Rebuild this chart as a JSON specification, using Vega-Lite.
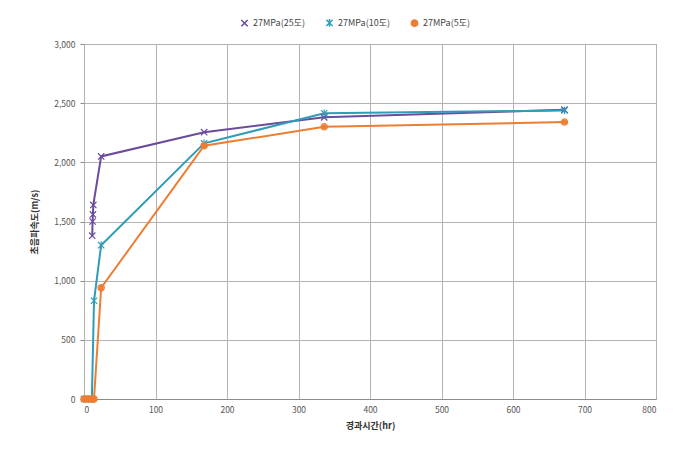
{
  "$schema": "https://vega.github.io/schema/vega-lite/v6.json",
  "width": 572,
  "height": 355,
  "autosize": "none",
  "padding": {"left": 84, "top": 44, "right": 38, "bottom": 56},
  "background": "white",
  "config": {
    "font": "Noto Sans CJK KR",
    "view": {"stroke": "#8c8c8c", "strokeWidth": 1},
    "axis": {
      "labelFont": "Noto Sans CJK KR",
      "titleFont": "Noto Sans CJK KR",
      "labelFontSize": 8.5,
      "labelColor": "#555555",
      "titleFontSize": 9,
      "titleFontWeight": "bold",
      "titleColor": "#333333",
      "gridColor": "#b3b3b3",
      "gridWidth": 1,
      "domainColor": "#8c8c8c",
      "tickColor": "#8c8c8c"
    },
    "legend": {"labelFont": "Noto Sans CJK KR", "labelFontSize": 9, "labelColor": "#444444"}
  },
  "data": {
    "values": [
      {"series": "27MPa(25도)", "time": 11.5, "speed": 1380},
      {"series": "27MPa(25도)", "time": 12, "speed": 1500},
      {"series": "27MPa(25도)", "time": 12.5, "speed": 1560},
      {"series": "27MPa(25도)", "time": 13, "speed": 1640},
      {"series": "27MPa(25도)", "time": 24, "speed": 2050},
      {"series": "27MPa(25도)", "time": 168, "speed": 2255},
      {"series": "27MPa(25도)", "time": 336, "speed": 2380},
      {"series": "27MPa(25도)", "time": 672, "speed": 2445},
      {"series": "27MPa(10도)", "time": 0, "speed": 0},
      {"series": "27MPa(10도)", "time": 6, "speed": 0},
      {"series": "27MPa(10도)", "time": 11, "speed": 0},
      {"series": "27MPa(10도)", "time": 14, "speed": 830},
      {"series": "27MPa(10도)", "time": 24, "speed": 1300},
      {"series": "27MPa(10도)", "time": 168, "speed": 2160},
      {"series": "27MPa(10도)", "time": 336, "speed": 2415},
      {"series": "27MPa(10도)", "time": 672, "speed": 2438},
      {"series": "27MPa(5도)", "time": 0, "speed": 0},
      {"series": "27MPa(5도)", "time": 4, "speed": 0},
      {"series": "27MPa(5도)", "time": 8, "speed": 0},
      {"series": "27MPa(5도)", "time": 12, "speed": 0},
      {"series": "27MPa(5도)", "time": 14, "speed": 0},
      {"series": "27MPa(5도)", "time": 24, "speed": 940},
      {"series": "27MPa(5도)", "time": 168, "speed": 2140},
      {"series": "27MPa(5도)", "time": 336, "speed": 2300},
      {"series": "27MPa(5도)", "time": 672, "speed": 2340}
    ]
  },
  "encoding": {
    "x": {
      "field": "time", "type": "quantitative",
      "scale": {"domain": [0, 800], "nice": false},
      "axis": {"values": [0,100,200,300,400,500,600,700,800], "format": ".0f", "title": "경과시간(hr)", "ticks": false, "labelPadding": 6, "titlePadding": 8, "domain": true}
    },
    "y": {
      "field": "speed", "type": "quantitative",
      "scale": {"domain": [0, 3000], "nice": false},
      "axis": {"values": [0,500,1000,1500,2000,2500,3000], "format": ",.0f", "title": "초음파속도(m/s)", "tickSize": 4, "labelPadding": 5, "titlePadding": 14, "domain": false}
    },
    "color": {
      "field": "series", "type": "nominal",
      "scale": {"domain": ["27MPa(25도)", "27MPa(10도)", "27MPa(5도)"], "range": ["#6a4c9c", "#2f9db8", "#ed7d31"]},
      "legend": {"title": null, "orient": "none", "direction": "horizontal", "legendX": 156, "legendY": -26, "symbolSize": 40, "symbolStrokeWidth": 1.5, "columnPadding": 18, "labelOffset": 4}
    }
  },
  "layer": [
    {"mark": {"type": "line", "strokeWidth": 2}},
    {
      "mark": {"type": "point", "filled": false, "strokeWidth": 1.2, "size": 40, "opacity": 1},
      "encoding": {
        "shape": {
          "field": "series", "type": "nominal",
          "scale": {"domain": ["27MPa(25도)", "27MPa(10도)", "27MPa(5도)"], "range": ["M-1,-1L1,1M-1,1L1,-1", "M-1,-1L1,1M-1,1L1,-1M0,-1.2L0,1.2", "circle"]},
          "legend": null
        }
      }
    },
    {
      "transform": [{"filter": "datum.series === '27MPa(5도)'"}],
      "mark": {"type": "point", "filled": true, "shape": "circle", "size": 28, "opacity": 1}
    }
  ]
}
